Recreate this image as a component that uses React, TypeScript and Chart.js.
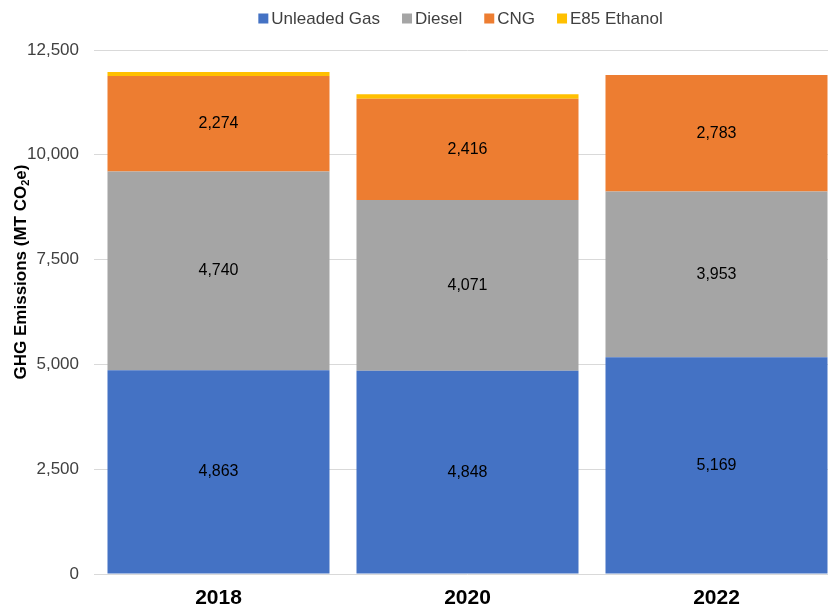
import React, { useEffect, useRef } from "react";
import { Chart, registerables } from "chart.js";

Chart.register(...registerables);

const categories = ["2018", "2020", "2022"];
const unleadedGas = [4863, 4848, 5169];
const diesel = [4740, 4071, 3953];
const cng = [2274, 2416, 2783];
const e85Ethanol = [98, 110, 0];
const seriesNames = ["Unleaded Gas", "Diesel", "CNG", "E85 Ethanol"];
const seriesColors = ["#4472C4", "#A5A5A5", "#ED7D31", "#FFC000"];
const labelledSeries = [0, 1, 2];
const yMin = 0;
const yMax = 12500;
const yStep = 2500;
const yTitleMain = "GHG Emissions (MT CO";
const yTitleSub = "2";
const yTitleEnd = "e)";

const FONT = '"Liberation Sans", Arial, sans-serif';

const valueLabelPlugin = {
  id: "valueLabels",
  afterDatasetsDraw(chart: any) {
    const ctx = chart.ctx;
    ctx.save();
    ctx.font = `16px ${FONT}`;
    ctx.fillStyle = "#000000";
    ctx.textAlign = "center";
    ctx.textBaseline = "middle";
    labelledSeries.forEach((di) => {
      const meta = chart.getDatasetMeta(di);
      meta.data.forEach((bar: any, j: number) => {
        const v = chart.data.datasets[di].data[j];
        if (!v) return;
        const p = bar.getProps(["x", "y", "base"], true);
        ctx.fillText(Number(v).toLocaleString("en-US"), p.x, (p.y + p.base) / 2);
      });
    });
    ctx.restore();
  },
};

const customLegendPlugin = {
  id: "customLegend",
  afterDraw(chart: any) {
    const ctx = chart.ctx;
    ctx.save();
    ctx.font = `17px ${FONT}`;
    ctx.textBaseline = "middle";
    ctx.textAlign = "left";
    const box = 10;
    const boxToText = 13;
    const itemGap = 22;
    const widths = chart.data.datasets.map((d: any) => ctx.measureText(d.label).width);
    const total =
      widths.reduce((a: number, b: number) => a + b, 0) +
      boxToText * widths.length +
      itemGap * (widths.length - 1);
    let x = 460.5 - total / 2;
    const cy = 18.5;
    chart.data.datasets.forEach((d: any, i: number) => {
      ctx.fillStyle = d.backgroundColor;
      ctx.fillRect(x, cy - box / 2, box, box);
      ctx.fillStyle = "#404040";
      ctx.fillText(d.label, x + boxToText, cy + 1);
      x += boxToText + widths[i] + itemGap;
    });
    ctx.restore();
  },
};

const yTitlePlugin = {
  id: "yTitle",
  afterDraw(chart: any) {
    const ctx = chart.ctx;
    ctx.save();
    const mainFont = `bold 17px ${FONT}`;
    const subFont = `bold 11px ${FONT}`;
    ctx.font = mainFont;
    const w1 = ctx.measureText(yTitleMain).width;
    const w3 = ctx.measureText(yTitleEnd).width;
    ctx.font = subFont;
    const w2 = ctx.measureText(yTitleSub).width;
    const total = w1 + w2 + w3;
    ctx.translate(20, 272);
    ctx.rotate(-Math.PI / 2);
    ctx.fillStyle = "#000000";
    ctx.textBaseline = "alphabetic";
    ctx.textAlign = "left";
    let x = -total / 2;
    const base = 6;
    ctx.font = mainFont;
    ctx.fillText(yTitleMain, x, base);
    x += w1;
    ctx.font = subFont;
    ctx.fillText(yTitleSub, x, base + 3);
    x += w2;
    ctx.font = mainFont;
    ctx.fillText(yTitleEnd, x, base);
    ctx.restore();
  },
};

export default function App() {
  const canvasRef = useRef<HTMLCanvasElement | null>(null);

  useEffect(() => {
    if (!canvasRef.current) return;
    const series = [unleadedGas, diesel, cng, e85Ethanol];
    const chart = new Chart(canvasRef.current, {
      type: "bar",
      data: {
        labels: categories,
        datasets: series.map((data, i) => ({
          label: seriesNames[i],
          data,
          backgroundColor: seriesColors[i],
          borderWidth: 0,
          categoryPercentage: 1,
          barPercentage: 0.8916,
        })),
      },
      options: {
        responsive: false,
        animation: false,
        layout: { padding: { top: 50, left: 0, right: 0, bottom: 0 } },
        plugins: {
          legend: { display: false },
          tooltip: { enabled: false },
          title: { display: false },
        },
        scales: {
          x: {
            stacked: true,
            grid: { display: false, drawTicks: false },
            border: { display: false },
            ticks: {
              color: "#000000",
              font: { family: FONT, size: 21, weight: "bold", lineHeight: 1.2 },
              padding: 12,
            },
            afterFit: (scale: any) => {
              scale.height = 35;
            },
          },
          y: {
            stacked: true,
            min: yMin,
            max: yMax,
            grid: { color: "#D9D9D9", lineWidth: 1, drawTicks: false },
            border: { display: false },
            ticks: {
              stepSize: yStep,
              color: "#404040",
              font: { family: FONT, size: 17 },
              padding: 15,
              callback: (v: any) => Number(v).toLocaleString("en-US"),
            },
            afterFit: (scale: any) => {
              scale.width = 94;
            },
          },
        },
      },
      plugins: [valueLabelPlugin, customLegendPlugin, yTitlePlugin],
    });
    return () => chart.destroy();
  }, []);

  return (
    <div
      style={{
        position: "absolute",
        left: 0,
        top: 0,
        width: 828,
        height: 609,
        overflow: "hidden",
        background: "#ffffff",
      }}
    >
      <canvas ref={canvasRef} width={841} height={609} style={{ display: "block" }} />
    </div>
  );
}
